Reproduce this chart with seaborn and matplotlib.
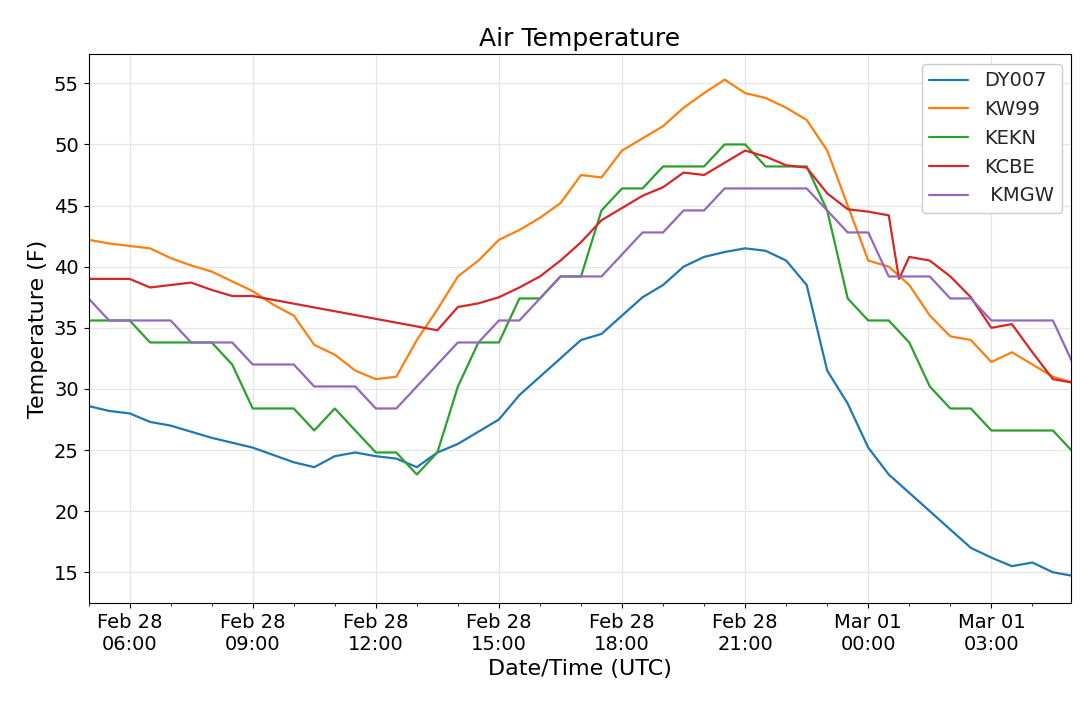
import numpy as np
import pandas as pd
import matplotlib
matplotlib.use("Agg")
import matplotlib.pyplot as plt
import matplotlib.dates as mdates
import seaborn as sns

# half-hour steps starting Feb 28 05:00 UTC
half_hours = pd.date_range("2019-02-28 05:00", periods=49, freq="30min")

dy007 = [28.6, 28.2, 28.0, 27.3, 27.0, 26.5, 26.0, 25.6, 25.2, 24.6, 24.0, 23.6, 24.5, 24.8,
         24.5, 24.3, 23.6, 24.8, 25.5, 26.5, 27.5, 29.5, 31.0, 32.5, 34.0, 34.5, 36.0, 37.5,
         38.5, 40.0, 40.8, 41.2, 41.5, 41.3, 40.5, 38.5, 31.5, 28.8, 25.2, 23.0, 21.5, 20.0,
         18.5, 17.0, 16.2, 15.5, 15.8, 15.0, 14.7]
kw99 = [42.2, 41.9, 41.7, 41.5, 40.7, 40.1, 39.6, 38.8, 38.0, 36.9, 36.0, 33.6, 32.8, 31.5,
        30.8, 31.0, 34.0, 36.5, 39.2, 40.5, 42.2, 43.0, 44.0, 45.2, 47.5, 47.3, 49.5, 50.5,
        51.5, 53.0, 54.2, 55.3, 54.2, 53.8, 53.0, 52.0, 49.5, 45.0, 40.5, 40.0, 38.5, 36.0,
        34.3, 34.0, 32.2, 33.0, 32.0, 31.0, 30.5]
kekn = [35.6, 35.6, 35.6, 33.8, 33.8, 33.8, 33.8, 32.0, 28.4, 28.4, 28.4, 26.6, 28.4, 26.6,
        24.8, 24.8, 23.0, 24.8, 30.2, 33.8, 33.8, 37.4, 37.4, 39.2, 39.2, 44.6, 46.4, 46.4,
        48.2, 48.2, 48.2, 50.0, 50.0, 48.2, 48.2, 48.2, 44.6, 37.4, 35.6, 35.6, 33.8, 30.2,
        28.4, 28.4, 26.6, 26.6, 26.6, 26.6, 24.8]
kmgw = [37.4, 35.6, 35.6, 35.6, 35.6, 33.8, 33.8, 33.8, 32.0, 32.0, 32.0, 30.2, 30.2, 30.2,
        28.4, 28.4, 30.2, 32.0, 33.8, 33.8, 35.6, 35.6, 37.4, 39.2, 39.2, 39.2, 41.0, 42.8,
        42.8, 44.6, 44.6, 46.4, 46.4, 46.4, 46.4, 46.4, 44.6, 42.8, 42.8, 39.2, 39.2, 39.2,
        37.4, 37.4, 35.6, 35.6, 35.6, 35.6, 32.0]

# KCBE has a data gap (straight segment) between 09:00 and 13:30
kcbe_times = pd.to_datetime(
    ["2019-02-28 05:00", "2019-02-28 06:00", "2019-02-28 06:30", "2019-02-28 07:00",
     "2019-02-28 07:30", "2019-02-28 08:00", "2019-02-28 08:30", "2019-02-28 09:00",
     "2019-02-28 13:30", "2019-02-28 14:00", "2019-02-28 14:30", "2019-02-28 15:00",
     "2019-02-28 15:30", "2019-02-28 16:00", "2019-02-28 16:30", "2019-02-28 17:00",
     "2019-02-28 17:30", "2019-02-28 18:00", "2019-02-28 18:30", "2019-02-28 19:00",
     "2019-02-28 19:30", "2019-02-28 20:00", "2019-02-28 20:30", "2019-02-28 21:00",
     "2019-02-28 21:30", "2019-02-28 22:00", "2019-02-28 22:30", "2019-02-28 23:00",
     "2019-02-28 23:30", "2019-03-01 00:00", "2019-03-01 00:30", "2019-03-01 00:45",
     "2019-03-01 01:00", "2019-03-01 01:30", "2019-03-01 02:00", "2019-03-01 02:30",
     "2019-03-01 03:00", "2019-03-01 03:30", "2019-03-01 04:00", "2019-03-01 04:30",
     "2019-03-01 05:00"])
kcbe = [39.0, 39.0, 38.3, 38.5, 38.7, 38.1, 37.6, 37.6, 34.8, 36.7, 37.0, 37.5, 38.3, 39.2,
        40.5, 42.0, 43.8, 44.8, 45.8, 46.5, 47.7, 47.5, 48.5, 49.5, 49.0, 48.3, 48.1, 46.0,
        44.7, 44.5, 44.2, 39.0, 40.8, 40.5, 39.2, 37.5, 35.0, 35.3, 33.0, 30.8, 30.5]

fig = plt.figure(figsize=(10.8, 7.01), dpi=100)
ax = fig.add_axes([0.082, 0.14, 0.91, 0.783])
sns.set_style("ticks")
pal = sns.color_palette("tab10")

sns.lineplot(x=half_hours, y=dy007, ax=ax, color=pal[0], label="DY007", lw=1.6)
sns.lineplot(x=half_hours, y=kw99, ax=ax, color=pal[1], label="KW99", lw=1.6)
sns.lineplot(x=half_hours, y=kekn, ax=ax, color=pal[2], label="KEKN", lw=1.6)
sns.lineplot(x=kcbe_times, y=kcbe, ax=ax, color=pal[3], label="KCBE", lw=1.6)
sns.lineplot(x=half_hours, y=kmgw, ax=ax, color=pal[4], label=" KMGW", lw=1.6)

ax.set_xlim(pd.Timestamp("2019-02-28 05:00"), pd.Timestamp("2019-03-01 04:57"))
ax.set_ylim(12.5, 57.4)
ax.xaxis.set_major_locator(mdates.HourLocator(byhour=[0, 3, 6, 9, 12, 15, 18, 21]))
ax.xaxis.set_minor_locator(mdates.HourLocator())
ax.xaxis.set_major_formatter(mdates.DateFormatter("%b %d\n%H:%M"))
ax.set_yticks([15, 20, 25, 30, 35, 40, 45, 50, 55])
ax.grid(True, color="#e6e6e6", lw=0.9)
ax.tick_params(labelsize=14)
ax.set_xlabel("Date/Time (UTC)", fontsize=16)
ax.set_ylabel("Temperature (F)", fontsize=16)
ax.set_title("Air Temperature", fontsize=18)
for s in ax.spines.values():
    s.set_color("black")
ax.legend(loc="upper right", fontsize=14, framealpha=1)

fig.savefig("out.png", dpi=100)
